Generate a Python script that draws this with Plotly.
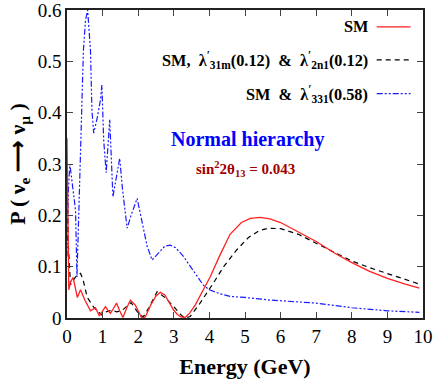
import plotly.graph_objects as go

# ---- data ----
E_sm = [0.0, 0.02, 0.05, 0.1, 0.17, 0.23, 0.29, 0.38, 0.5, 0.66, 0.8, 0.91, 1.0, 1.08, 1.15, 1.22,
        1.3, 1.39, 1.48, 1.57, 1.68, 1.78, 1.92, 2.02, 2.1, 2.2, 2.35, 2.5, 2.62, 2.75, 2.88, 2.99,
        3.1, 3.2, 3.32, 3.45, 3.6, 3.8, 4.02, 4.3, 4.58, 4.9, 5.15, 5.42, 5.7, 6.0, 6.5, 7.0, 7.5,
        8.0, 8.5, 9.0, 9.5, 9.9]
P_sm = [0.35, 0.20, 0.055, 0.07, 0.079, 0.06, 0.04, 0.055, 0.035, 0.014, 0.02, 0.004, 0.014, 0.022,
        0.015, 0.009, 0.018, 0.029, 0.014, 0.001, 0.02, 0.035, 0.025, 0.01, 0.0, 0.002, 0.025, 0.043,
        0.050, 0.045, 0.03, 0.016, 0.007, 0.002, 0.001, 0.01, 0.025, 0.052, 0.08, 0.123, 0.163, 0.186,
        0.194, 0.196, 0.193, 0.186, 0.168, 0.149, 0.127, 0.108, 0.091, 0.077, 0.066, 0.058]

E_rpv1 = [0.0, 0.03, 0.1, 0.24, 0.38, 0.45, 0.57, 0.75, 0.85, 0.98, 1.1, 1.25, 1.4, 1.55, 1.8, 2.05,
          2.15, 2.3, 2.53, 2.75, 3.0, 3.2, 3.32, 3.46, 3.7, 3.9, 4.11, 4.4, 4.77, 5.1, 5.4, 5.65, 6.0,
          6.5, 7.0, 7.5, 8.0, 8.5, 9.0, 9.5, 9.9]
P_rpv1 = [0.30, 0.15, 0.065, 0.08, 0.087, 0.075, 0.04, 0.021, 0.014, 0.006, 0.012, 0.015, 0.012, 0.015,
          0.03, 0.005, 0.003, 0.02, 0.051, 0.04, 0.022, 0.006, 0.0, 0.003, 0.025, 0.045, 0.068, 0.10,
          0.133, 0.157, 0.17, 0.175, 0.174, 0.163, 0.146, 0.128, 0.111, 0.098, 0.087, 0.075, 0.066]

E_rpv2 = [0.0, 0.04, 0.08, 0.16, 0.24, 0.28, 0.33, 0.36, 0.40, 0.46, 0.52, 0.58, 0.62, 0.66, 0.70,
          0.75, 0.85, 0.94, 0.98, 1.03, 1.10, 1.2, 1.29, 1.39, 1.48, 1.56, 1.64, 1.69, 1.8, 1.97, 2.1,
          2.25, 2.39, 2.55, 2.75, 2.9, 3.05, 3.27, 3.5, 3.83, 4.0, 4.3, 4.58, 5.0, 5.7, 6.5, 7.0, 8.0,
          9.0, 9.9]
P_rpv2 = [0.12, 0.25, 0.30, 0.26, 0.21, 0.08, 0.21, 0.30, 0.41, 0.52, 0.58, 0.60, 0.56, 0.52, 0.405,
          0.36, 0.39, 0.425, 0.454, 0.347, 0.283, 0.386, 0.236, 0.28, 0.311, 0.25, 0.197, 0.175, 0.20,
          0.233, 0.19, 0.14, 0.113, 0.125, 0.14, 0.142, 0.137, 0.12, 0.098, 0.064, 0.055, 0.047, 0.042,
          0.040, 0.035, 0.031, 0.029, 0.020, 0.014, 0.011]

legend_labels = ["SM",
                 "SM,  λ<sup>′</sup><sub>31m</sub>(0.12)  &  λ<sup>′</sup><sub>2n1</sub>(0.12)",
                 "SM  &  λ<sup>′</sup><sub>331</sub>(0.58)"]
x_ticks = list(range(0, 11))
y_ticks = [0, 0.1, 0.2, 0.3, 0.4, 0.5, 0.6]
y_tick_text = ["0", "0.1", "0.2", "0.3", "0.4", "0.5", "0.6"]

RED = "#ff2020"
BLACK = "#000000"
BLUE = "#1a1aff"
BLUE_DASH = "6px,2px,2px,2px,2px,2px"
BLACK_DASH = "5px,4px"
FONT = "Liberation Serif"

fig = go.Figure()
fig.add_trace(go.Scatter(x=E_rpv2, y=P_rpv2, mode="lines",
                         line=dict(color=BLUE, width=1.2, dash=BLUE_DASH)))
fig.add_trace(go.Scatter(x=E_rpv1, y=P_rpv1, mode="lines",
                         line=dict(color=BLACK, width=1.2, dash=BLACK_DASH)))
fig.add_trace(go.Scatter(x=E_sm, y=P_sm, mode="lines",
                         line=dict(color=RED, width=1.3)))

# hand-made legend (text right, sample line on the right)
leg_rows = [(0.567, RED, "solid"), (0.503, BLACK, BLACK_DASH), (0.437, BLUE, BLUE_DASH)]
for (yy, col, dash), lab in zip(leg_rows, legend_labels):
    fig.add_annotation(x=8.5, y=yy, xref="x", yref="y", text="<b>" + lab + "</b>",
                       showarrow=False, xanchor="right", yanchor="middle",
                       font=dict(family=FONT, size=16.3, color="black"))
    fig.add_shape(type="line", x0=8.7, x1=9.65, y0=yy, y1=yy, xref="x", yref="y",
                  line=dict(color=col, width=1.2, dash=dash))

fig.add_annotation(x=5.09, y=0.347, xref="x", yref="y", text="<b>Normal hierarchy</b>",
                   showarrow=False, font=dict(family=FONT, size=20, color="#0000ff"))
fig.add_annotation(x=5.0, y=0.290, xref="x", yref="y",
                   text="<b>sin<sup>2</sup>2θ<sub>13</sub> = 0.043</b>",
                   showarrow=False, font=dict(family=FONT, size=15, color="#a00000"))

fig.update_layout(
    width=436, height=382,
    margin=dict(l=67, r=13, t=10, b=64),
    paper_bgcolor="white", plot_bgcolor="white",
    showlegend=False,
    font=dict(family=FONT, color="black"),
)
fig.update_xaxes(range=[0, 10], tickvals=x_ticks, ticks="inside", ticklen=6,
                 showgrid=False, zeroline=False, showline=True, linecolor="#222",
                 linewidth=1.5, mirror="allticks", automargin=False,
                 ticklabeloverflow="allow",
                 tickfont=dict(family=FONT, size=19),
                 title=dict(text="<b>Energy (GeV)</b>", font=dict(family=FONT, size=22),
                            standoff=13))
fig.update_yaxes(range=[0, 0.6], tickvals=y_ticks, ticktext=y_tick_text, ticks="inside",
                 ticklen=6, showgrid=False, zeroline=False, showline=True, linecolor="#222",
                 linewidth=1.5, mirror="allticks", automargin=False,
                 ticklabeloverflow="allow",
                 tickfont=dict(family=FONT, size=19),
                 title=dict(text="<b>P ( ν<sub>e</sub> ⟶ ν<sub>μ</sub> )</b>",
                            font=dict(family=FONT, size=22), standoff=6))

fig.write_html("out.html", config={"displayModeBar": False},
               post_script="document.body.style.margin='0';")
